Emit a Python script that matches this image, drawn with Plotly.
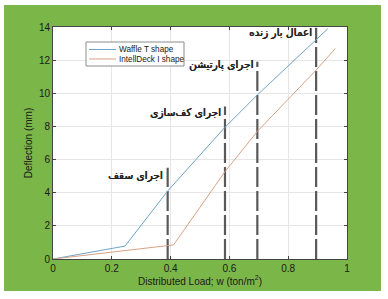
import plotly.graph_objects as go

# data
waffle_x = [0, 0.245, 0.39, 0.585, 0.695, 0.895, 0.935]
waffle_y = [0, 0.78, 4.1, 7.95, 9.9, 13.2, 13.9]
intell_x = [0, 0.41, 0.585, 0.695, 0.895, 0.96]
intell_y = [0, 0.85, 5.27, 7.7, 11.4, 12.7]
series_names = ["Waffle T shape", "IntellDeck I shape"]
series_colors = ["#6fa3c8", "#d6a285"]

stage_x = [0.39, 0.585, 0.695, 0.895]
stage_top = [5.5, 9.2, 11.9, 13.95]
stage_label_y = [5.05, 8.85, 11.75, 13.65]
stage_labels = ["اجرای سقف", "اجرای کف\u200cسازی", "اجرای پارتیشن", "اعمال بار زنده"]

x_ticks = [0, 0.2, 0.4, 0.6, 0.8, 1]
y_ticks = [0, 2, 4, 6, 8, 10, 12, 14]

W, H = 388, 299
L, R, T, B = 53, 41, 27, 40
pw, ph = W - L - R, H - T - B


def px2paper_x(p):
    return (p - L) / pw


def px2paper_y(p):
    return (H - B - p) / ph


fig = go.Figure()

for sx, st in zip(stage_x, stage_top):
    fig.add_trace(go.Scatter(x=[sx, sx], y=[0, st], mode="lines",
                             line=dict(color="#595959", width=2.2, dash="20px,4px"),
                             showlegend=False, hoverinfo="skip"))

for xs, ys, nm, col in zip([waffle_x, intell_x], [waffle_y, intell_y], series_names, series_colors):
    fig.add_trace(go.Scatter(x=xs, y=ys, mode="lines", name=nm,
                             line=dict(color=col, width=1), showlegend=False))

for sx, ly, lab in zip(stage_x, stage_label_y, stage_labels):
    fig.add_annotation(x=sx - 0.008, y=ly, text=lab, showarrow=False,
                       xanchor="right", yanchor="middle",
                       font=dict(family="DejaVu Sans", size=10.5, color="#262626",
                                 shadow="0.5px 0 0 #262626, 0 0.3px 0 #262626"))

# background frame
fig.add_shape(type="rect", xref="paper", yref="paper",
              x0=px2paper_x(4), x1=px2paper_x(381), y0=px2paper_y(291), y1=px2paper_y(5),
              fillcolor="#7ab648", line=dict(width=0), layer="below")
fig.add_shape(type="rect", xref="paper", yref="paper", x0=0, x1=1, y0=0, y1=1,
              fillcolor="white", line=dict(width=0), layer="below")

# compact legend box
fig.add_shape(type="rect", xref="paper", yref="paper",
              x0=px2paper_x(86), x1=px2paper_x(184), y0=px2paper_y(66), y1=px2paper_y(42),
              fillcolor="white", line=dict(color="#8c8c8c", width=1))
for i, (nm, col) in enumerate(zip(series_names, series_colors)):
    yy = 49.5 + i * 9.5
    fig.add_shape(type="line", xref="paper", yref="paper",
                  x0=px2paper_x(89), x1=px2paper_x(116), y0=px2paper_y(yy), y1=px2paper_y(yy),
                  line=dict(color=col, width=1))
    fig.add_annotation(xref="paper", yref="paper", x=px2paper_x(117), y=px2paper_y(yy),
                       text=nm, showarrow=False, xanchor="left", yanchor="middle",
                       font=dict(family="Liberation Sans", size=8.2, color="#1a1a1a"))

axis_common = dict(showgrid=True, gridcolor="#e6e6e6", gridwidth=1,
                   showline=True, linecolor="#444444", linewidth=1, mirror="ticks",
                   ticks="inside", ticklen=3, tickcolor="#444444", zeroline=False,
                   tickfont=dict(family="Liberation Sans", size=10, color="#1a1a1a"))

fig.update_xaxes(range=[0, 1], tickvals=x_ticks, ticktext=[str(v) for v in x_ticks],
                 title=dict(text="Distributed Load; w (ton/m<sup>2</sup>)", standoff=4,
                            font=dict(family="Liberation Sans", size=10, color="#1a1a1a")),
                 **axis_common)
fig.update_yaxes(range=[0, 14], tickvals=y_ticks,
                 title=dict(text="Deflection (mm)", standoff=4,
                            font=dict(family="Liberation Sans", size=10, color="#1a1a1a")),
                 **axis_common)

fig.update_layout(
    width=W, height=H,
    margin=dict(l=L, r=R, t=T, b=B),
    paper_bgcolor="white", plot_bgcolor="white",
    showlegend=False,
)

fig.write_html("out.html")
